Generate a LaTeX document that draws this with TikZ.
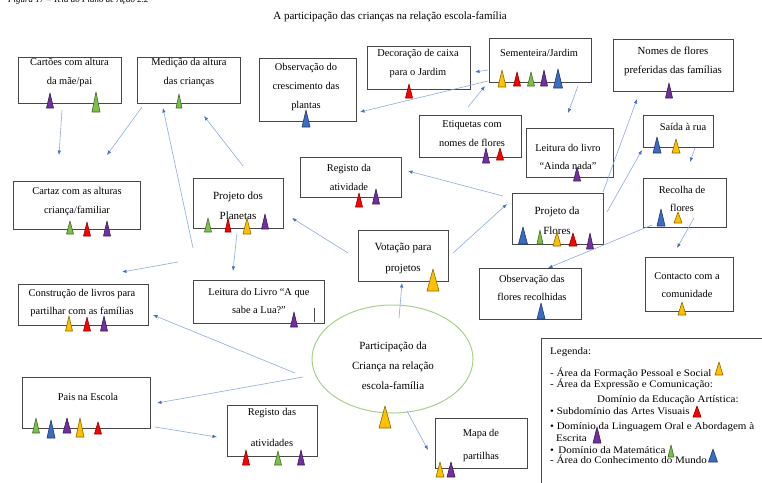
\documentclass[tikz,border=0pt]{standalone}
\usepackage{fontspec}
\setmainfont{Liberation Serif}
\usetikzlibrary{arrows.meta,shapes.geometric}
\definecolor{lineblue}{HTML}{8FAADC}
\definecolor{tipblue}{HTML}{4472C4}
\definecolor{tOrange}{HTML}{FFC000}
\definecolor{tRed}{HTML}{FF0000}
\definecolor{tGreen}{HTML}{7CC04A}
\definecolor{tPurple}{HTML}{7030A0}
\definecolor{tBlue}{HTML}{3A6CC4}
\definecolor{ellgreen}{HTML}{A9D18E}
\newcommand{\mytri}[5]{\filldraw[fill=#5, draw=#5!55!black, line width=0.6pt, line join=round] (#1-#4,#3) -- (#1,#2) -- (#1+#4,#3) -- cycle;}
\tikzset{
  box/.style={draw=black!72, line width=0.9pt, fill=white, inner sep=0pt, anchor=north west},
  txt/.style={align=center, inner sep=0pt, font=\fontsize{10.4}{19}\selectfont},
  bigtxt/.style={align=center, inner sep=0pt, font=\fontsize{11}{20}\selectfont},
  legtxt/.style={anchor=west, inner sep=0pt, font=\fontsize{10}{11}\selectfont\addfontfeatures{FakeStretch=1.1}},
  conn/.style={draw=lineblue, line width=0.6pt, -{Latex[length=4.5pt,width=3.5pt,color=tipblue]}},
}
\begin{document}
\begin{tikzpicture}[x=1pt,y=-1pt]
\useasboundingbox (0,0) rectangle (762,482);
\fill[white] (0,0) rectangle (762,482);

% caption (cut off at top, as in the reference) and title
\node[anchor=base west, inner sep=0pt, font=\fontsize{9}{10}\selectfont\itshape] (cap) at (8,2.5) {Figura 17 – Teia do Plano de Ação 2.2};
\node[inner sep=0pt, font=\fontsize{11}{12}\selectfont] (title) at (390,17) {A participação das crianças na relação escola-família};

% boxes
\node[box, minimum width=103, minimum height=46] (cart) at (18,57) {};
\node[box, minimum width=103, minimum height=46] (medi) at (137,57) {};
\node[box, minimum width=97, minimum height=63] (obsc) at (259,58) {};
\node[box, minimum width=103, minimum height=43] (deco) at (367,46) {};
\node[box, minimum width=102, minimum height=44] (seme) at (489,38) {};
\node[box, minimum width=120, minimum height=52] (nome) at (613,39) {};
\node[box, minimum width=70, minimum height=32] (said) at (643,115) {};
\node[box, minimum width=87, minimum height=49] (ainda) at (526,128) {};
\node[box, minimum width=102, minimum height=42] (etiq) at (419,115) {};
\node[box, minimum width=101, minimum height=40] (regi) at (300,157) {};
\node[box, minimum width=91, minimum height=51] (proF) at (512,193) {};
\node[box, minimum width=83, minimum height=49] (reco) at (643,178) {};
\node[box, minimum width=102, minimum height=51] (obsf) at (479,268) {};
\node[box, minimum width=88, minimum height=54] (cont) at (645,257) {};
\node[box, minimum width=127, minimum height=48] (cartz) at (13,181) {};
\node[box, minimum width=90, minimum height=50] (proP) at (193,178) {};
\node[box, minimum width=90, minimum height=51] (vota) at (358,230) {};
\node[box, minimum width=131, minimum height=43] (lua) at (193,280) {};
\node[box, minimum width=130, minimum height=41] (cons) at (18,284) {};
\node[box, minimum width=128, minimum height=51] (pais) at (22,377) {};
\node[box, minimum width=90, minimum height=51] (rega) at (227,405) {};
\node[box, minimum width=92, minimum height=50] (mapa) at (435,418) {};
\node[box, minimum width=240, minimum height=160] (leg) at (541,338) {};
\node[draw=ellgreen, line width=1pt, fill=white, ellipse, minimum width=161, minimum height=108, inner sep=0pt] (ell) at (392.5,359) {};

% texts
\node[txt] (cartT) at (69.5,72.5) {Cartões com altura\\da mãe/pai};
\node[txt] (mediT) at (189,72.5) {Medição da altura\\das crianças};
\node[txt] (obscT) at (306,87) {Observação do\\crescimento das\\plantas};
\node[txt] (decoT) at (418,63.5) {Decoração de caixa\\para o Jardim};
\node[txt] (semeT) at (539,53) {Sementeira/Jardim};
\node[txt, font=\fontsize{10.8}{19}\selectfont] (nomeT) at (673,61.5) {Nomes de flores\\preferidas das famílias};
\node[txt] (saidT) at (683,127) {Saída à rua};
\node[txt, font=\fontsize{10.4}{18}\selectfont] (aindaT) at (568,157) {Leitura do livro\\“Ainda nada”};
\node[txt] (etiqT) at (472,134) {Etiquetas com\\nomes de flores};
\node[txt] (regiT) at (349,177.5) {Registo da\\atividade};
\node[bigtxt] (proFT) at (557,221) {Projeto da\\Flores};
\node[txt, font=\fontsize{10.4}{18}\selectfont] (recoT) at (682,199) {Recolha de\\flores};
\node[txt, font=\fontsize{10.4}{18}\selectfont] (obsfT) at (532,288) {Observação das\\flores recolhidas};
\node[txt, font=\fontsize{10.4}{18}\selectfont] (contT) at (687,285) {Contacto com a\\comunidade};
\node[txt] (cartzT) at (77,201.5) {Cartaz com as alturas\\criança/familiar};
\node[bigtxt] (proPT) at (238,206) {Projeto dos\\Planetas};
\node[bigtxt, font=\fontsize{11}{21}\selectfont] (votaT) at (403,258.5) {Votação para\\projetos};
\node[txt, font=\fontsize{10.4}{18}\selectfont] (luaT) at (259,301) {Leitura do Livro “A que\\sabe a Lua?”};
\node[txt, font=\fontsize{10.4}{18}\selectfont] (consT) at (82,303) {Construção de livros para\\partilhar com as famílias};
\node[txt, font=\fontsize{11}{20}\selectfont] (ellT) at (393,366) {Participação da\\Criança na relação\\escola-família};
\node[txt] (paisT) at (88,397) {Pais na Escola};
\node[txt, font=\fontsize{10.4}{31}\selectfont] (regaT) at (272,427.5) {Registo das\\atividades};
\node[txt, font=\fontsize{10.4}{23}\selectfont] (mapaT) at (481,445.5) {Mapa de\\partilhas};
\draw[black!70, line width=0.8pt] (314,308) -- (314,322);

% legend
\node[legtxt] (l1) at (550,352) {Legenda:};
\node[legtxt] (l2) at (550,373) {- Área da Formação Pessoal e Social};
\node[legtxt] (l3) at (550,384) {- Área da Expressão e Comunicação:};
\node[legtxt] (l4) at (597,400) {Domínio da Educação Artística:};
\node[legtxt] (l5) at (550,411) {• Subdomínio das Artes Visuais};
\node[legtxt] (l6) at (550,427) {• Domínio da Linguagem Oral e Abordagem à};
\node[legtxt] (l7) at (556,438.5) {Escrita};
\node[legtxt] (l8) at (550,450) {• \,Domínio da Matemática};
\node[legtxt] (l9) at (550,459.5) {- Área do Conhecimento do Mundo};
\mytri{719}{362}{375}{4}{tOrange}
\mytri{697}{406}{417}{4}{tRed}
\mytri{597}{427}{443}{4}{tPurple}
\mytri{671}{445}{457}{3}{tGreen}
\mytri{713}{449}{462}{4.5}{tBlue}

% triangles
\mytri{50}{93}{108}{3.5}{tPurple}
\mytri{96}{92}{112}{4}{tGreen}
\mytri{179}{94}{108}{3}{tGreen}
\mytri{306}{110}{127}{4}{tBlue}
\mytri{409}{84}{98}{3.5}{tRed}
\mytri{502}{70}{87}{4}{tOrange}
\mytri{517}{72}{86}{3.5}{tRed}
\mytri{531}{72}{86}{3.5}{tGreen}
\mytri{544}{70}{86}{3.5}{tPurple}
\mytri{558}{69}{88}{4.5}{tBlue}
\mytri{669}{83}{98}{3.5}{tPurple}
\mytri{657}{137}{153}{4}{tBlue}
\mytri{676}{139}{153}{4}{tOrange}
\mytri{577}{167}{181}{3.5}{tPurple}
\mytri{486}{148}{163}{3.5}{tPurple}
\mytri{500}{148}{160}{3.5}{tRed}
\mytri{359}{193}{207}{3.5}{tRed}
\mytri{376}{189}{204}{3.5}{tPurple}
\mytri{523}{227}{244}{4.5}{tBlue}
\mytri{540}{230}{244}{3}{tGreen}
\mytri{557}{232}{246}{4}{tOrange}
\mytri{573}{233}{246}{4}{tRed}
\mytri{590}{233}{249}{3.5}{tPurple}
\mytri{661}{209}{226}{4}{tBlue}
\mytri{678}{212}{223}{4}{tOrange}
\mytri{541}{303}{319}{4}{tBlue}
\mytri{682}{302}{315}{4}{tOrange}
\mytri{70}{221}{234}{3.5}{tGreen}
\mytri{87}{222}{236}{3.5}{tRed}
\mytri{107}{221}{236}{3.5}{tPurple}
\mytri{208}{218}{232}{3.5}{tGreen}
\mytri{228}{218}{232}{3}{tRed}
\mytri{247}{218}{234}{4}{tOrange}
\mytri{265}{214}{229}{3.5}{tPurple}
\mytri{433}{269}{291}{6}{tOrange}
\mytri{294}{312}{327}{3.5}{tPurple}
\mytri{69}{316}{331}{3.5}{tOrange}
\mytri{87}{317}{331}{3.5}{tRed}
\mytri{104}{316}{331}{3.5}{tPurple}
\mytri{385}{406}{428}{6}{tOrange}
\mytri{36}{418}{433}{3.5}{tGreen}
\mytri{51}{420}{438}{4}{tBlue}
\mytri{67}{418}{433}{4}{tPurple}
\mytri{80}{418}{437}{4}{tOrange}
\mytri{98}{422}{434}{3.5}{tRed}
\mytri{246}{450}{465}{3.5}{tRed}
\mytri{278}{451}{465}{3.5}{tGreen}
\mytri{301}{450}{465}{3.5}{tPurple}
\mytri{440}{462}{477}{4}{tOrange}
\mytri{451}{462}{477}{4}{tPurple}

% connector end points
\coordinate (a1) at (62,110);  \coordinate (a2) at (59,155);
\coordinate (b1) at (142,107); \coordinate (b2) at (107,155);
\coordinate (c1) at (193,248); \coordinate (c2) at (163,108);
\coordinate (d1) at (243,166); \coordinate (d2) at (204,116);
\coordinate (e1) at (237,233); \coordinate (e2) at (233,271);
\coordinate (f1) at (178,262); \coordinate (f2) at (122,272);
\coordinate (g1) at (348,253); \coordinate (g2) at (292,218);
\coordinate (h1) at (453,253); \coordinate (h2) at (507,204);
\coordinate (i1) at (503,196); \coordinate (i2) at (408,171);
\coordinate (j1) at (399,318); \coordinate (j2) at (402,283);
\coordinate (k1) at (295,373); \coordinate (k2) at (153,315);
\coordinate (l1c) at (303,377); \coordinate (l2c) at (157,403);
\coordinate (m1) at (155,427); \coordinate (m2) at (217,437);
\coordinate (n1) at (407,411); \coordinate (n2) at (428,450);
\coordinate (o1) at (488,70);  \coordinate (o2) at (475,72);
\coordinate (p1) at (488,81);  \coordinate (p2) at (360,112);
\coordinate (q1) at (468,107); \coordinate (q2) at (485,86);
\coordinate (r1) at (578,86);  \coordinate (r2) at (568,113);
\coordinate (s1) at (603,192); \coordinate (s2) at (637,99);
\coordinate (t1) at (607,212); \coordinate (t2) at (642,150);
\coordinate (u1) at (695,148); \coordinate (u2) at (690,162);
\coordinate (v1) at (652,225); \coordinate (v2) at (548,268);
\coordinate (w1) at (694,218); \coordinate (w2) at (677,248);

\foreach \s/\e in {a1/a2,b1/b2,c1/c2,d1/d2,e1/e2,f1/f2,g1/g2,h1/h2,i1/i2,j1/j2,k1/k2,l1c/l2c,m1/m2,n1/n2,o1/o2,p1/p2,q1/q2,r1/r2,s1/s2,t1/t2,u1/u2,v1/v2,w1/w2}
  \draw[conn] (\s) -- (\e);
\end{tikzpicture}
\end{document}
